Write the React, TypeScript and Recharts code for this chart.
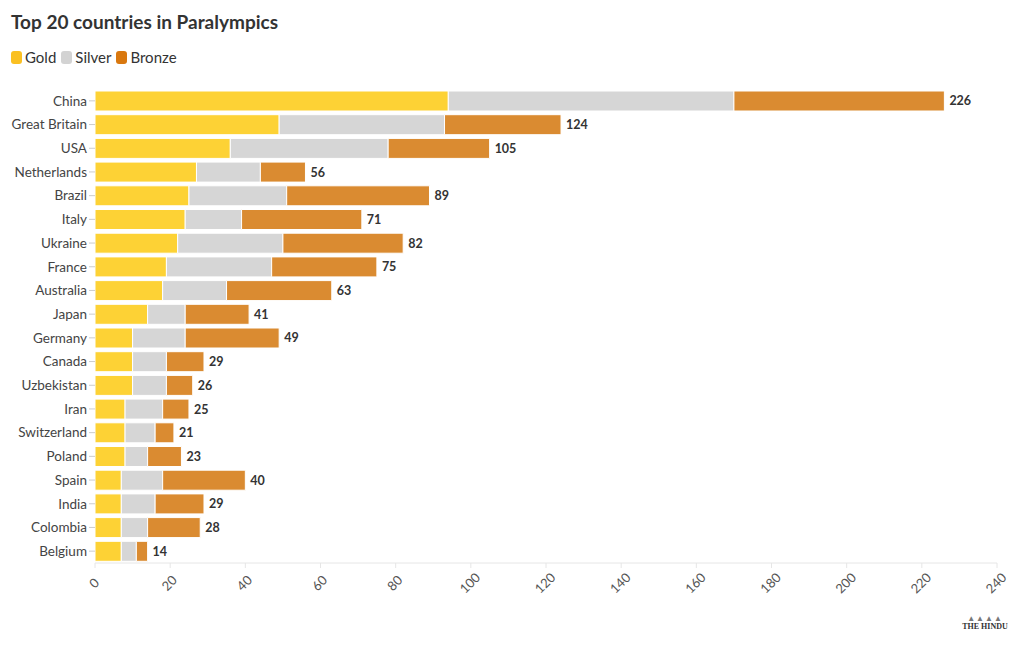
import React from "react";
import { BarChart, Bar, XAxis, YAxis, LabelList } from "recharts";

const countries = ["China","Great Britain","USA","Netherlands","Brazil","Italy","Ukraine","France","Australia","Japan","Germany","Canada","Uzbekistan","Iran","Switzerland","Poland","Spain","India","Colombia","Belgium"];
const gold = [94,49,36,27,25,24,22,19,18,14,10,10,10,8,8,8,7,7,7,7];
const silver = [76,44,42,17,26,15,28,28,17,10,14,9,9,10,8,6,11,9,7,4];
const bronze = [56,31,27,12,38,32,32,28,28,17,25,10,7,7,5,9,22,13,14,3];
const xTicks = [0,20,40,60,80,100,120,140,160,180,200,220,240];

const data = countries.map((c, i) => ({
  country: c,
  Gold: gold[i],
  Silver: silver[i],
  Bronze: bronze[i],
  total: gold[i] + silver[i] + bronze[i],
}));

const FONT = "Lato, 'Noto Sans', sans-serif";
const GOLD = "#FDD235";
const SILVER = "#D6D6D6";
const BRONZE = "#DA8B31";

const XTick = (props: any) => {
  const { x, y, payload } = props;
  const cx = x;
  const cy = y + 14;
  return (
    <text
      x={cx}
      y={cy}
      textAnchor="middle"
      dominantBaseline="middle"
      transform={`rotate(-45, ${cx}, ${cy})`}
      fontFamily={FONT}
      fontSize={13}
      fill="#555"
    >
      {payload.value}
    </text>
  );
};

const legendItems = [
  { name: "Gold", color: "#FAC022" },
  { name: "Silver", color: "#D3D3D3" },
  { name: "Bronze", color: "#D9780F" },
];

export default function App() {
  return (
    <div style={{ position: "absolute", left: 0, top: 0, width: 1020, height: 650, background: "#fff", fontFamily: FONT }}>
      <div style={{ position: "absolute", left: 11, top: 10, fontSize: 19, fontWeight: 700, color: "#333" }}>
        Top 20 countries in Paralympics
      </div>
      <div style={{ position: "absolute", left: 11, top: 48, display: "flex", alignItems: "center", fontSize: 15, color: "#333" }}>
        {legendItems.map((it) => (
          <div key={it.name} style={{ display: "flex", alignItems: "center", marginRight: 5 }}>
            <span style={{ display: "inline-block", width: 11, height: 13, borderRadius: 3, background: it.color, marginRight: 3 }} />
            <span>{it.name}</span>
          </div>
        ))}
      </div>
      <div style={{ position: "absolute", left: 0, top: 0 }}>
        <BarChart
          width={1020}
          height={650}
          data={data}
          layout="vertical"
          margin={{ top: 89, right: 23, bottom: 27, left: 10 }}
          barSize={20}
        >
          <XAxis
            type="number"
            domain={[0, 240]}
            ticks={xTicks}
            interval={0}
            height={60}
            axisLine={{ stroke: "#e6e6e6" }}
            tickLine={{ stroke: "#e6e6e6" }}
            tickSize={5}
            tick={<XTick />}
          />
          <YAxis
            type="category"
            dataKey="country"
            width={85}
            axisLine={false}
            tickLine={{ stroke: "#cccccc" }}
            tickSize={6}
            tick={{ fontFamily: FONT, fontSize: 13.5, fill: "#444" }}
            interval={0}
          />
          <Bar dataKey="Gold" stackId="a" fill={GOLD} stroke="#fff" strokeWidth={1} isAnimationActive={false} />
          <Bar dataKey="Silver" stackId="a" fill={SILVER} stroke="#fff" strokeWidth={1} isAnimationActive={false} />
          <Bar dataKey="Bronze" stackId="a" fill={BRONZE} stroke="#fff" strokeWidth={1} isAnimationActive={false}>
            <LabelList
              dataKey="total"
              position="right"
              offset={5}
              style={{ fontFamily: FONT, fontSize: 12.5, fontWeight: 700, fill: "#333" }}
            />
          </Bar>
        </BarChart>
      </div>
      <div style={{ position: "absolute", left: 961, top: 614, width: 48, textAlign: "center", color: "#333" }}>
        <div style={{ fontSize: 8, letterSpacing: 1, color: "#777", lineHeight: "8px" }}>▲▲▲▲</div>
        <div style={{ fontFamily: "'Liberation Serif', serif", fontSize: 8, fontWeight: 700, lineHeight: "10px" }}>THE HINDU</div>
      </div>
    </div>
  );
}
